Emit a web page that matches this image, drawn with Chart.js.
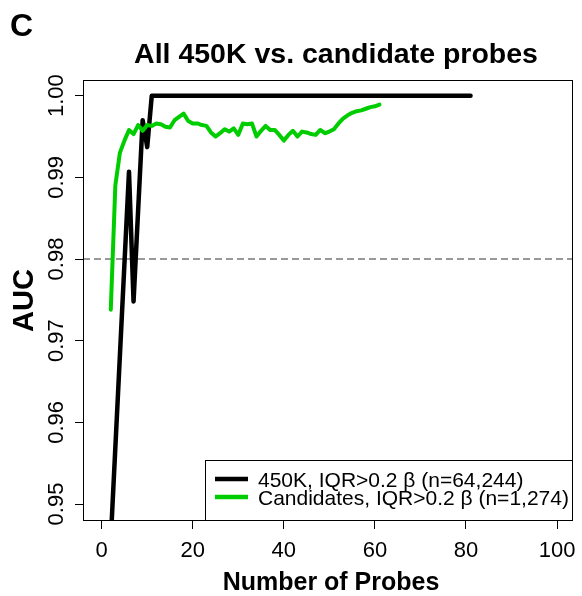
<!DOCTYPE html>
<html>
<head>
<meta charset="utf-8">
<script src="https://cdn.jsdelivr.net/npm/chart.js@4/dist/chart.umd.min.js"></script>
<style>
  html, body { margin: 0; padding: 0; background: #fff; }
  canvas { display: block; }
</style>
</head>
<body>
<canvas id="aucChart" width="582" height="596"></canvas>
<script>
// AUC against number of probes, two probe sets
const probes450k = [2, 6, 7, 9, 10, 11, 81];
const auc450k = [0.9456, 0.9907, 0.9748, 0.9970, 0.9937, 1.0000, 1.0000];

const probesCand = [2, 3, 4, 5, 6, 7, 8, 9, 10, 11, 12, 13, 14, 15, 16, 17, 18, 19, 20, 21,
    22, 23, 24, 25, 26, 27, 28, 29, 30, 31, 32, 33, 34, 35, 36, 37, 38, 39, 40, 41,
    42, 43, 44, 45, 46, 47, 48, 49, 50, 51, 52, 53, 54, 55, 56, 57, 58, 59, 60, 61];
const aucCand = [0.9738, 0.9890, 0.9930, 0.9945, 0.9958, 0.9953, 0.9964, 0.9957, 0.9964, 0.9963,
    0.9966, 0.9965, 0.9962, 0.9961, 0.9970, 0.9974, 0.9978, 0.9969, 0.9966, 0.9966,
    0.9964, 0.9963, 0.9955, 0.9950, 0.9954, 0.9959, 0.9956, 0.9960, 0.9952, 0.9966,
    0.9965, 0.9966, 0.9950, 0.9957, 0.9963, 0.9958, 0.9958, 0.9952, 0.9945, 0.9952,
    0.9957, 0.9950, 0.9956, 0.9955, 0.9953, 0.9952, 0.9958, 0.9954, 0.9956, 0.9959,
    0.9966, 0.9972, 0.9976, 0.9979, 0.9981, 0.9982, 0.9984, 0.9986, 0.9987, 0.9989];

const cutoff = 0.98;

const xTicks = [0, 20, 40, 60, 80, 100];
const yTicks = [0.95, 0.96, 0.97, 0.98, 0.99, 1.00];
const yTickLabels = ["0.95", "0.96", "0.97", "0.98", "0.99", "1.00"];

const legendLabels = ["450K, IQR>0.2 \u03b2 (n=64,244)", "Candidates, IQR>0.2 \u03b2 (n=1,274)"];
const legendColors = ["#000000", "#00cd00"];

const X_MIN = -4.1, X_MAX = 103.5;
const Y_MIN = 0.94792, Y_MAX = 1.00192;

const FONT = "'Liberation Sans', Arial, Helvetica, sans-serif";

function toPoints(xs, ys) {
    return xs.map((x, i) => ({ x: x, y: ys[i] }));
}

// R-style frame, labels and legend drawn on top of the scales
const decorations = {
    id: "decorations",
    afterDraw(chart) {
        const ctx = chart.ctx;
        const area = chart.chartArea;
        const xs = chart.scales.x;
        const ys = chart.scales.y;

        ctx.save();
        ctx.strokeStyle = "#000";
        ctx.lineWidth = 1;
        ctx.strokeRect(Math.round(area.left) + 0.5, Math.round(area.top) + 0.5,
            Math.round(area.right - area.left) - 1, Math.round(area.bottom - area.top) - 1);

        ctx.fillStyle = "#000";

        // x tick labels
        ctx.font = "22px " + FONT;
        ctx.textAlign = "center";
        ctx.textBaseline = "alphabetic";
        xTicks.forEach(v => {
            ctx.fillText(String(v), xs.getPixelForValue(v), 557);
        });

        // y tick labels, rotated like the axis title
        yTicks.forEach((v, i) => {
            ctx.save();
            ctx.translate(63, ys.getPixelForValue(v));
            ctx.rotate(-Math.PI / 2);
            ctx.fillText(yTickLabels[i], 0, 0);
            ctx.restore();
        });

        // axis titles
        ctx.font = "bold 25px " + FONT;
        ctx.fillText("Number of Probes", (area.left + area.right) / 2 + 3, 590);

        ctx.save();
        ctx.font = "bold 29px " + FONT;
        ctx.translate(33, (area.top + area.bottom) / 2);
        ctx.rotate(-Math.PI / 2);
        ctx.fillText("AUC", 0, 0);
        ctx.restore();

        // main title and panel letter
        ctx.font = "bold 28.5px " + FONT;
        ctx.fillText("All 450K vs. candidate probes", 336, 63);
        ctx.textAlign = "left";
        ctx.font = "bold 32px " + FONT;
        ctx.fillText("C", 10, 36);

        // legend box in the bottom right corner
        const boxLeft = 205, boxTop = 460;
        const boxRight = Math.round(area.right), boxBottom = Math.round(area.bottom);
        ctx.fillStyle = "#fff";
        ctx.fillRect(boxLeft, boxTop, boxRight - boxLeft, boxBottom - boxTop);
        ctx.strokeStyle = "#000";
        ctx.lineWidth = 1;
        ctx.strokeRect(boxLeft + 0.5, boxTop + 0.5, boxRight - boxLeft - 1, boxBottom - boxTop - 1);

        ctx.font = "21px " + FONT;
        ctx.textAlign = "left";
        legendLabels.forEach((label, i) => {
            const rowY = 479 + i * 18;
            ctx.strokeStyle = legendColors[i];
            ctx.lineWidth = 4.5;
            ctx.lineCap = "butt";
            ctx.beginPath();
            ctx.moveTo(215, rowY);
            ctx.lineTo(248, rowY);
            ctx.stroke();
            ctx.fillStyle = "#000";
            ctx.fillText(label, 258, rowY + 7.5);
        });
        ctx.restore();
    }
};

new Chart(document.getElementById("aucChart"), {
    type: "line",
    data: {
        datasets: [
            {
                label: legendLabels[1],
                data: toPoints(probesCand, aucCand),
                borderColor: legendColors[1],
                borderWidth: 4,
                order: 1
            },
            {
                label: legendLabels[0],
                data: toPoints(probes450k, auc450k),
                borderColor: legendColors[0],
                borderWidth: 4.5,
                order: 2
            },
            {
                label: "cutoff",
                data: toPoints([X_MIN, X_MAX], [cutoff, cutoff]),
                borderColor: "#333",
                borderWidth: 1,
                borderDash: [7, 4],
                borderCapStyle: "butt",
                borderJoinStyle: "miter",
                order: 3
            }
        ]
    },
    options: {
        responsive: false,
        animation: false,
        devicePixelRatio: 1,
        layout: { padding: { left: 0, top: 80, right: 9, bottom: 0 } },
        elements: {
            point: { radius: 0 },
            line: { tension: 0, fill: false, borderCapStyle: "round", borderJoinStyle: "round" }
        },
        datasets: { line: { clip: 0 } },
        plugins: {
            legend: { display: false },
            tooltip: { enabled: false },
            title: { display: false }
        },
        scales: {
            x: {
                type: "linear",
                min: X_MIN,
                max: X_MAX,
                afterBuildTicks: (scale) => { scale.ticks = xTicks.map(v => ({ value: v })); },
                afterFit: (scale) => { scale.height = 75; },
                ticks: { display: false },
                grid: { drawOnChartArea: false, drawTicks: true, tickLength: 8, color: "#000", tickColor: "#000", lineWidth: 1 },
                border: { display: false }
            },
            y: {
                type: "linear",
                min: Y_MIN,
                max: Y_MAX,
                afterBuildTicks: (scale) => { scale.ticks = yTicks.map(v => ({ value: v })); },
                afterFit: (scale) => { scale.width = 83; },
                ticks: { display: false },
                grid: { drawOnChartArea: false, drawTicks: true, tickLength: 8, color: "#000", tickColor: "#000", lineWidth: 1 },
                border: { display: false }
            }
        }
    },
    plugins: [decorations]
});
</script>
</body>
</html>
